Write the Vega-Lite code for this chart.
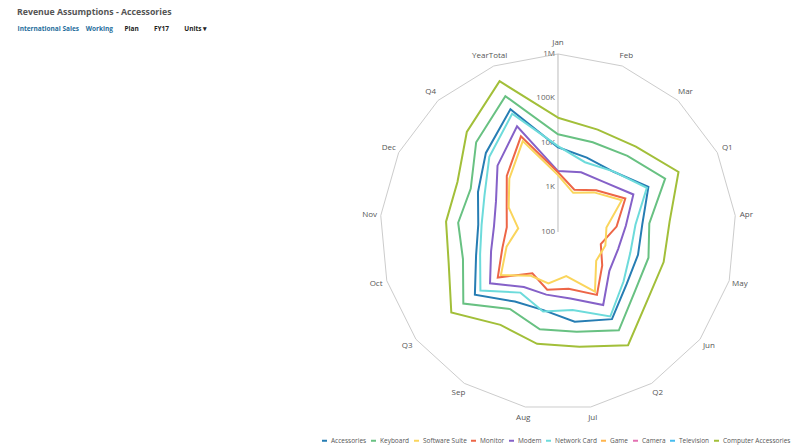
{
  "$schema": "https://vega.github.io/schema/vega-lite/v6.json",
  "width": 793,
  "height": 447,
  "autosize": "none",
  "padding": 0,
  "background": "white",
  "config": {"view": {"stroke": null}, "font": "Open Sans"},
  "title": {
    "text": "Revenue Assumptions - Accessories",
    "anchor": "start",
    "frame": "group",
    "orient": "top",
    "fontSize": 8.75,
    "fontWeight": "bold",
    "color": "#555555",
    "offset": -24,
    "baseline": "alphabetic",
    "dx": 17
  },
  "datasets": {
    "months": [
      {"month": "Jan"}, {"month": "Feb"}, {"month": "Mar"}, {"month": "Q1"},
      {"month": "Apr"}, {"month": "May"}, {"month": "Jun"}, {"month": "Q2"},
      {"month": "Jul"}, {"month": "Aug"}, {"month": "Sep"}, {"month": "Q3"},
      {"month": "Oct"}, {"month": "Nov"}, {"month": "Dec"}, {"month": "Q4"},
      {"month": "YearTotal"}
    ],
    "ticks": [
      {"v": 100, "label": "100"},
      {"v": 1000, "label": "1K"},
      {"v": 10000, "label": "10K"},
      {"v": 100000, "label": "100K"},
      {"v": 1000000, "label": "1M"}
    ],
    "series": [
      {"series": "Computer Accessories", "month": "Jan", "value": 37000},
      {"series": "Computer Accessories", "month": "Feb", "value": 29300},
      {"series": "Computer Accessories", "month": "Mar", "value": 39600},
      {"series": "Computer Accessories", "month": "Q1", "value": 106000},
      {"series": "Computer Accessories", "month": "Apr", "value": 33000},
      {"series": "Computer Accessories", "month": "May", "value": 29400},
      {"series": "Computer Accessories", "month": "Jun", "value": 33500},
      {"series": "Computer Accessories", "month": "Q2", "value": 98000},
      {"series": "Computer Accessories", "month": "Jul", "value": 42000},
      {"series": "Computer Accessories", "month": "Aug", "value": 36000},
      {"series": "Computer Accessories", "month": "Sep", "value": 28500},
      {"series": "Computer Accessories", "month": "Q3", "value": 101000},
      {"series": "Computer Accessories", "month": "Oct", "value": 35800},
      {"series": "Computer Accessories", "month": "Nov", "value": 33600},
      {"series": "Computer Accessories", "month": "Dec", "value": 33400},
      {"series": "Computer Accessories", "month": "Q4", "value": 110000},
      {"series": "Computer Accessories", "month": "YearTotal", "value": 430000},

      {"series": "Keyboard", "month": "Jan", "value": 15700},
      {"series": "Keyboard", "month": "Feb", "value": 14500},
      {"series": "Keyboard", "month": "Mar", "value": 20700},
      {"series": "Keyboard", "month": "Q1", "value": 49000},
      {"series": "Keyboard", "month": "Apr", "value": 11500},
      {"series": "Keyboard", "month": "May", "value": 13000},
      {"series": "Keyboard", "month": "Jun", "value": 15000},
      {"series": "Keyboard", "month": "Q2", "value": 39600},
      {"series": "Keyboard", "month": "Jul", "value": 19100},
      {"series": "Keyboard", "month": "Aug", "value": 16700},
      {"series": "Keyboard", "month": "Sep", "value": 10900},
      {"series": "Keyboard", "month": "Q3", "value": 46300},
      {"series": "Keyboard", "month": "Oct", "value": 16600},
      {"series": "Keyboard", "month": "Nov", "value": 17900},
      {"series": "Keyboard", "month": "Dec", "value": 15500},
      {"series": "Keyboard", "month": "Q4", "value": 53600},
      {"series": "Keyboard", "month": "YearTotal", "value": 188000},

      {"series": "Accessories", "month": "Jan", "value": 8000},
      {"series": "Accessories", "month": "Feb", "value": 6200},
      {"series": "Accessories", "month": "Mar", "value": 6900},
      {"series": "Accessories", "month": "Q1", "value": 18600},
      {"series": "Accessories", "month": "Apr", "value": 8000},
      {"series": "Accessories", "month": "May", "value": 7400},
      {"series": "Accessories", "month": "Jun", "value": 8600},
      {"series": "Accessories", "month": "Q2", "value": 20100},
      {"series": "Accessories", "month": "Jul", "value": 11200},
      {"series": "Accessories", "month": "Aug", "value": 6100},
      {"series": "Accessories", "month": "Sep", "value": 6900},
      {"series": "Accessories", "month": "Q3", "value": 21900},
      {"series": "Accessories", "month": "Oct", "value": 8200},
      {"series": "Accessories", "month": "Nov", "value": 6300},
      {"series": "Accessories", "month": "Dec", "value": 10200},
      {"series": "Accessories", "month": "Q4", "value": 25400},
      {"series": "Accessories", "month": "YearTotal", "value": 91000},

      {"series": "Network Card", "month": "Jan", "value": 8500},
      {"series": "Network Card", "month": "Feb", "value": 4800},
      {"series": "Network Card", "month": "Mar", "value": 7000},
      {"series": "Network Card", "month": "Q1", "value": 17000},
      {"series": "Network Card", "month": "Apr", "value": 5600},
      {"series": "Network Card", "month": "May", "value": 4900},
      {"series": "Network Card", "month": "Jun", "value": 7000},
      {"series": "Network Card", "month": "Q2", "value": 17100},
      {"series": "Network Card", "month": "Jul", "value": 6100},
      {"series": "Network Card", "month": "Aug", "value": 6600},
      {"series": "Network Card", "month": "Sep", "value": 4000},
      {"series": "Network Card", "month": "Q3", "value": 15300},
      {"series": "Network Card", "month": "Oct", "value": 6600},
      {"series": "Network Card", "month": "Nov", "value": 5300},
      {"series": "Network Card", "month": "Dec", "value": 7000},
      {"series": "Network Card", "month": "Q4", "value": 19500},
      {"series": "Network Card", "month": "YearTotal", "value": 70900},

      {"series": "Modem", "month": "Jan", "value": 2340},
      {"series": "Modem", "month": "Feb", "value": 2740},
      {"series": "Modem", "month": "Mar", "value": 3330},
      {"series": "Modem", "month": "Q1", "value": 7800},
      {"series": "Modem", "month": "Apr", "value": 3400},
      {"series": "Modem", "month": "May", "value": 2540},
      {"series": "Modem", "month": "Jun", "value": 2800},
      {"series": "Modem", "month": "Q2", "value": 8500},
      {"series": "Modem", "month": "Jul", "value": 3300},
      {"series": "Modem", "month": "Aug", "value": 2700},
      {"series": "Modem", "month": "Sep", "value": 2850},
      {"series": "Modem", "month": "Q3", "value": 8200},
      {"series": "Modem", "month": "Oct", "value": 3660},
      {"series": "Modem", "month": "Nov", "value": 2780},
      {"series": "Modem", "month": "Dec", "value": 3600},
      {"series": "Modem", "month": "Q4", "value": 10400},
      {"series": "Modem", "month": "YearTotal", "value": 35300},

      {"series": "Monitor", "month": "Jan", "value": 2200},
      {"series": "Monitor", "month": "Feb", "value": 1040},
      {"series": "Monitor", "month": "Mar", "value": 1870},
      {"series": "Monitor", "month": "Q1", "value": 4900},
      {"series": "Monitor", "month": "Apr", "value": 2100},
      {"series": "Monitor", "month": "May", "value": 1000},
      {"series": "Monitor", "month": "Jun", "value": 1760},
      {"series": "Monitor", "month": "Q2", "value": 4600},
      {"series": "Monitor", "month": "Jul", "value": 1980},
      {"series": "Monitor", "month": "Aug", "value": 2080},
      {"series": "Monitor", "month": "Sep", "value": 1240},
      {"series": "Monitor", "month": "Q3", "value": 4970},
      {"series": "Monitor", "month": "Oct", "value": 1990},
      {"series": "Monitor", "month": "Nov", "value": 1430},
      {"series": "Monitor", "month": "Dec", "value": 1940},
      {"series": "Monitor", "month": "Q4", "value": 5100},
      {"series": "Monitor", "month": "YearTotal", "value": 20200},

      {"series": "Software Suite", "month": "Jan", "value": 1900},
      {"series": "Software Suite", "month": "Feb", "value": 880},
      {"series": "Software Suite", "month": "Mar", "value": 1600},
      {"series": "Software Suite", "month": "Q1", "value": 4000},
      {"series": "Software Suite", "month": "Apr", "value": 1240},
      {"series": "Software Suite", "month": "May", "value": 1280},
      {"series": "Software Suite", "month": "Jun", "value": 1190},
      {"series": "Software Suite", "month": "Q2", "value": 3780},
      {"series": "Software Suite", "month": "Jul", "value": 1020},
      {"series": "Software Suite", "month": "Aug", "value": 1490},
      {"series": "Software Suite", "month": "Sep", "value": 1440},
      {"series": "Software Suite", "month": "Q3", "value": 4050},
      {"series": "Software Suite", "month": "Oct", "value": 1590},
      {"series": "Software Suite", "month": "Nov", "value": 790},
      {"series": "Software Suite", "month": "Dec", "value": 1730},
      {"series": "Software Suite", "month": "Q4", "value": 4200},
      {"series": "Software Suite", "month": "YearTotal", "value": 15500}
    ]
  },
  "layer": [
    {
      "data": {"name": "months"},
      "transform": [
        {"calculate": "indexof(['Jan','Feb','Mar','Q1','Apr','May','Jun','Q2','Jul','Aug','Sep','Q3','Oct','Nov','Dec','Q4','YearTotal'], datum.month)", "as": "i"},
        {"calculate": "log(1000000)/LN10 - 2", "as": "r"},
        {"calculate": "datum.r*sin(datum.i*2*PI/17)", "as": "px"},
        {"calculate": "datum.r*cos(datum.i*2*PI/17)", "as": "py"}
      ],
      "mark": {"type": "line", "interpolate": "linear-closed", "stroke": "#cccccc", "strokeWidth": 1},
      "encoding": {
        "x": {"field": "px", "type": "quantitative",
          "scale": {"domain": [-12.539, 5.281], "nice": false, "zero": false},
          "axis": {"orient": "top", "domain": false, "ticks": false, "labels": false, "grid": false,
            "title": "International Sales\u00a0\u00a0\u00a0\u00a0Working",
            "titleX": 17, "titleY": 28, "titleAnchor": "start", "titleAlign": "left", "titleBaseline": "middle",
            "titleColor": "#1f6e9c", "titleFontSize": 6.5, "titleFontWeight": "bold", "titlePadding": 0}},
        "y": {"field": "py", "type": "quantitative",
          "scale": {"domain": [-4.831, 5.213], "nice": false, "zero": false},
          "axis": {"orient": "left", "domain": false, "ticks": false, "labels": false, "grid": false,
            "title": "Plan\u00a0\u00a0\u00a0\u00a0\u00a0\u00a0\u00a0\u00a0\u00a0FY17\u00a0\u00a0\u00a0\u00a0\u00a0\u00a0\u00a0\u00a0\u00a0Units \u25be",
            "titleAngle": 0, "titleX": 124, "titleY": 28, "titleAlign": "left", "titleBaseline": "middle",
            "titleColor": "#222222", "titleFontSize": 6.5, "titleFontWeight": "bold", "titlePadding": 0}},
        "order": {"field": "i", "type": "quantitative"}
      }
    },
    {
      "data": {"name": "ticks"},
      "transform": [
        {"calculate": "log(datum.v)/LN10 - 2", "as": "py"}
      ],
      "mark": {"type": "rule", "stroke": "#bbbbbb", "strokeWidth": 1},
      "encoding": {
        "x": {"datum": 0, "type": "quantitative"},
        "y": {"aggregate": "min", "field": "py", "type": "quantitative"},
        "y2": {"aggregate": "max", "field": "py"}
      }
    },
    {
      "data": {"name": "ticks"},
      "transform": [
        {"calculate": "log(datum.v)/LN10 - 2", "as": "py"}
      ],
      "mark": {"type": "text", "align": "right", "baseline": "middle", "dx": -3, "fontSize": 8, "fill": "#666666"},
      "encoding": {
        "x": {"datum": 0, "type": "quantitative"},
        "y": {"field": "py", "type": "quantitative"},
        "text": {"field": "label"}
      }
    },
    {
      "data": {"name": "months"},
      "transform": [
        {"calculate": "indexof(['Jan','Feb','Mar','Q1','Apr','May','Jun','Q2','Jul','Aug','Sep','Q3','Oct','Nov','Dec','Q4','YearTotal'], datum.month)", "as": "i"},
        {"calculate": "log(1000000)/LN10 - 2 + 0.25", "as": "r"},
        {"calculate": "datum.r*sin(datum.i*2*PI/17)", "as": "px"},
        {"calculate": "datum.r*cos(datum.i*2*PI/17)", "as": "py"}
      ],
      "mark": {"type": "text", "align": "center", "baseline": "middle", "fontSize": 8, "fill": "#555555"},
      "encoding": {
        "x": {"field": "px", "type": "quantitative"},
        "y": {"field": "py", "type": "quantitative"},
        "text": {"field": "month"}
      }
    },
    {
      "data": {"name": "series"},
      "transform": [
        {"calculate": "indexof(['Jan','Feb','Mar','Q1','Apr','May','Jun','Q2','Jul','Aug','Sep','Q3','Oct','Nov','Dec','Q4','YearTotal'], datum.month)", "as": "i"},
        {"calculate": "log(datum.value)/LN10 - 2", "as": "r"},
        {"calculate": "datum.r*sin(datum.i*2*PI/17)", "as": "px"},
        {"calculate": "datum.r*cos(datum.i*2*PI/17)", "as": "py"}
      ],
      "mark": {"type": "line", "interpolate": "linear-closed", "strokeWidth": 2},
      "encoding": {
        "x": {"field": "px", "type": "quantitative"},
        "y": {"field": "py", "type": "quantitative"},
        "order": {"field": "i", "type": "quantitative"},
        "color": {
          "field": "series", "type": "nominal",
          "scale": {
            "domain": ["Accessories", "Keyboard", "Software Suite", "Monitor", "Modem", "Network Card", "Game", "Camera", "Television", "Computer Accessories"],
            "range": ["#267db3", "#68c182", "#fad55c", "#ed6647", "#8561c8", "#6ddbdb", "#ffb54d", "#e371b2", "#47bdef", "#a2bf39"]
          },
          "legend": {
            "orient": "bottom-right", "direction": "horizontal", "columns": 10, "title": null,
            "symbolType": "stroke", "symbolStrokeWidth": 2, "symbolSize": 25,
            "labelFontSize": 6.5, "labelColor": "#555555", "columnPadding": 0, "offset": 2, "padding": 0, "labelOffset": 3
          }
        }
      }
    }
  ]
}
